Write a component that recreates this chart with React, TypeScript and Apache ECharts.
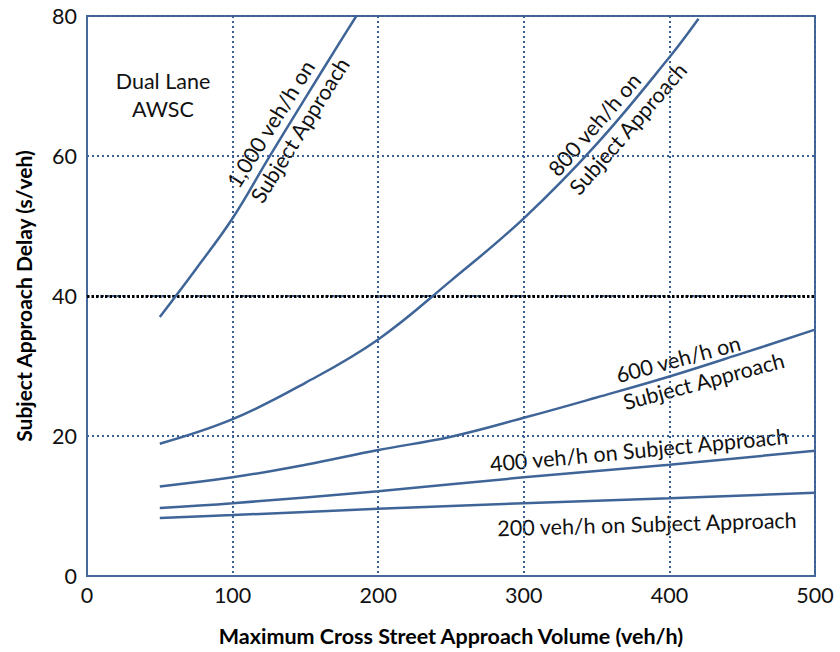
import React, { useEffect, useRef } from "react";
import * as echarts from "echarts";

const xTicks = [0, 100, 200, 300, 400, 500];
const yTicks = [0, 20, 40, 60, 80];

const x200 = [50, 100, 200, 300, 400, 500];
const y200 = [8.3, 8.7, 9.6, 10.4, 11.1, 11.9];

const x400 = [50, 100, 200, 300, 400, 500];
const y400 = [9.7, 10.4, 12.1, 14.1, 15.9, 17.9];

const x600 = [50, 100, 150, 200, 250, 300, 350, 400, 450, 500];
const y600 = [12.8, 14.1, 15.9, 18.0, 19.9, 22.6, 25.5, 28.5, 31.8, 35.2];

const x800 = [50, 100, 150, 200, 250, 300, 350, 400, 420];
const y800 = [18.9, 22.4, 27.6, 33.8, 42.2, 51.1, 61.7, 74.1, 79.6];

const x1000 = [50, 75, 100, 125, 150, 175, 185];
const y1000 = [37.0, 43.9, 51.1, 59.8, 68.3, 76.7, 80.0];

const seriesNames = [
  "200 veh/h on Subject Approach",
  "400 veh/h on Subject Approach",
  "600 veh/h on Subject Approach",
  "800 veh/h on Subject Approach",
  "1,000 veh/h on Subject Approach",
];
const seriesX = [x200, x400, x600, x800, x1000];
const seriesY = [y200, y400, y600, y800, y1000];

const FONT = 'Lato, "Open Sans", sans-serif';
const LINE = "#3f6598";
const deg = (d: number) => (d * Math.PI) / 180;

export default function App() {
  const ref = useRef<HTMLDivElement>(null);
  useEffect(() => {
    if (!ref.current) return;
    const chart = echarts.init(ref.current, undefined, { renderer: "svg" });
    const textStyle = (text: string, align: string) => ({
      text,
      fontSize: 21.5,
      fontFamily: FONT,
      fill: "#111",
      align,
      verticalAlign: "middle",
      lineHeight: 28,
    });
    chart.setOption({
      animation: false,
      backgroundColor: "#fff",
      grid: {
        left: 87,
        right: 25,
        top: 16,
        bottom: 76,
        show: true,
        borderColor: "#46699b",
        borderWidth: 2,
      },
      xAxis: {
        type: "value",
        min: xTicks[0],
        max: xTicks[xTicks.length - 1],
        interval: 100,
        name: "Maximum Cross Street Approach Volume (veh/h)",
        nameLocation: "middle",
        nameGap: 49,
        nameTextStyle: { fontSize: 21.5, fontWeight: "bold", fontFamily: FONT, color: "#000" },
        axisLine: { show: true, lineStyle: { color: "#46699b", width: 2 } },
        axisTick: { show: false },
        axisLabel: { fontSize: 21.5, fontFamily: FONT, color: "#111", margin: 8 },
        splitLine: { show: true, lineStyle: { color: "#3a5f93", type: [2, 3], width: 2 } },
      },
      yAxis: {
        type: "value",
        min: yTicks[0],
        max: yTicks[yTicks.length - 1],
        interval: 20,
        name: "Subject Approach Delay (s/veh)",
        nameLocation: "middle",
        nameGap: 53,
        nameTextStyle: { fontSize: 21, fontWeight: "bold", fontFamily: FONT, color: "#000" },
        axisLine: { show: true, lineStyle: { color: "#46699b", width: 2 } },
        axisTick: { show: false },
        axisLabel: { fontSize: 21.5, fontFamily: FONT, color: "#111", margin: 10 },
        splitLine: { show: true, lineStyle: { color: "#3a5f93", type: [2, 3], width: 2 } },
      },
      series: seriesNames.map((name, i) => ({
        name,
        type: "line",
        smooth: 0.4,
        showSymbol: false,
        symbol: "none",
        lineStyle: { color: LINE, width: 2.5 },
        data: seriesX[i].map((x, j) => [x, seriesY[i][j]]),
        z: 3,
        markLine:
          i === 0
            ? {
                silent: true,
                symbol: ["none", "none"],
                label: { show: false },
                lineStyle: { color: "#000", type: [2.5, 2], width: 3 },
                data: [{ yAxis: 40 }],
                z: 2,
              }
            : undefined,
      })),
      graphic: [
        { type: "text", x: 163, y: 95, style: textStyle("Dual Lane\nAWSC", "center") },
        {
          type: "text",
          x: 244,
          y: 193,
          rotation: deg(58),
          style: textStyle("1,000 veh/h on\nSubject Approach", "left"),
        },
        {
          type: "text",
          x: 563,
          y: 182,
          rotation: deg(49),
          style: textStyle("800 veh/h on\nSubject Approach", "left"),
        },
        {
          type: "text",
          x: 620,
          y: 389,
          rotation: deg(15),
          style: textStyle("600 veh/h on\nSubject Approach", "left"),
        },
        {
          type: "text",
          x: 639,
          y: 450,
          rotation: deg(5.4),
          style: textStyle("400 veh/h on Subject Approach", "center"),
        },
        {
          type: "text",
          x: 647,
          y: 524,
          rotation: deg(1.6),
          style: textStyle("200 veh/h on Subject Approach", "center"),
        },
      ],
    });
    return () => chart.dispose();
  }, []);
  return (
    <div
      ref={ref}
      style={{ position: "fixed", left: 0, top: 0, width: 840, height: 652, background: "#fff" }}
    />
  );
}
